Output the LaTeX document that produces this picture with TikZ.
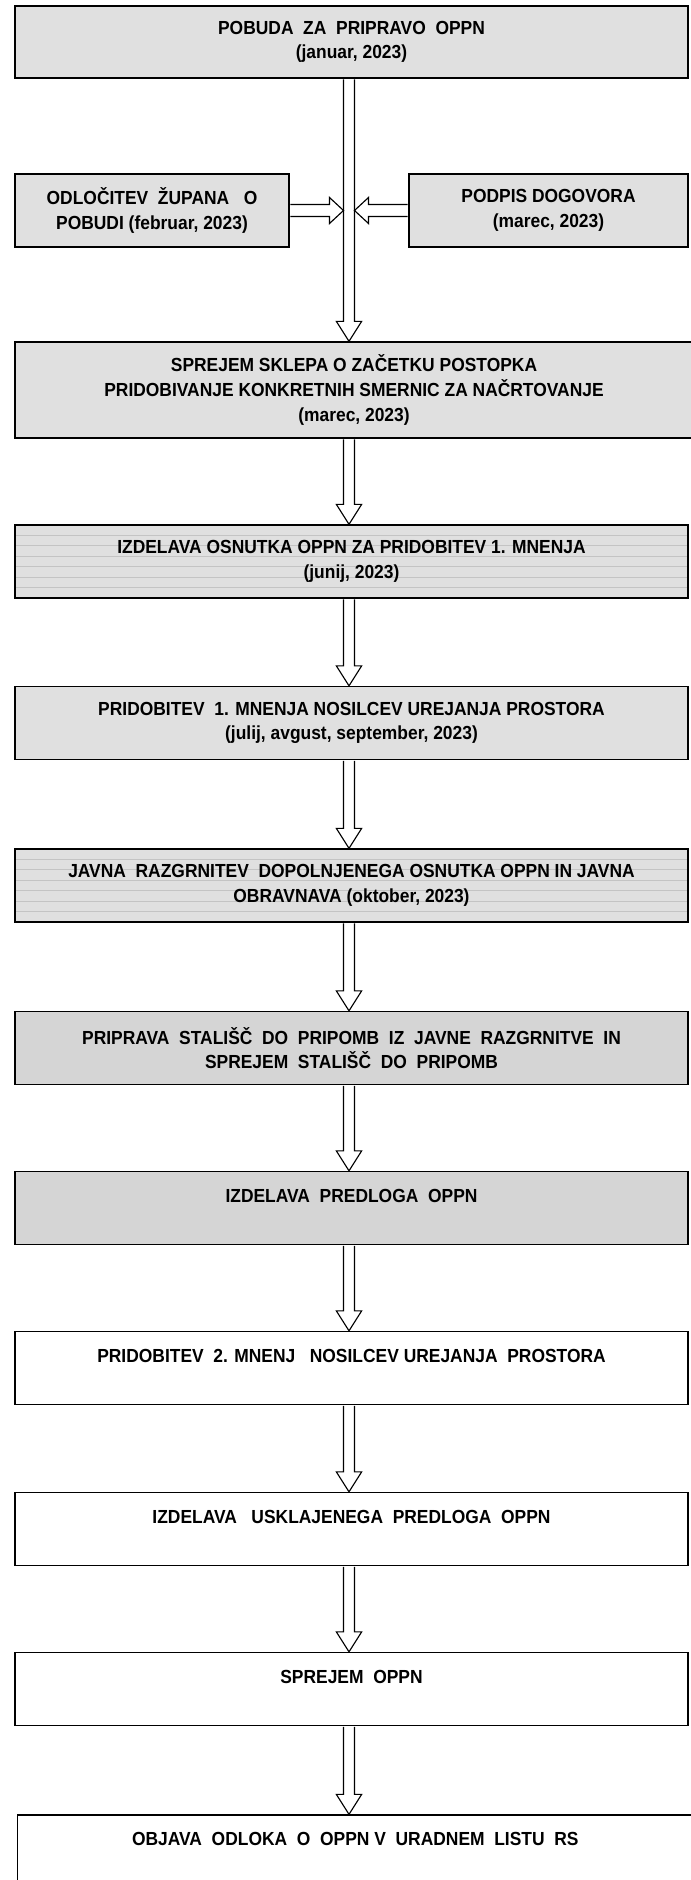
\documentclass[tikz,border=0pt]{standalone}
\usepackage{fontspec}
\setmainfont{Liberation Sans}[FakeStretch=0.92]
\usetikzlibrary{calc}
\definecolor{boxA}{HTML}{E0E0E0}
\definecolor{boxB}{HTML}{D5D5D5}
\definecolor{hlc}{HTML}{C4C4C4}
\def\pxu{0.75pt}
\newcommand{\dsp}{\ \ }
\newcommand{\varr}[2]{%
  \draw[arrowline] let \p1=(#1.south -| ax), \p2=(#2.north -| ax) in
    (\x1-4.1pt,\y1-0.5pt) -- (\x1-4.1pt,\y2+15pt) -- (\x1-9.5pt,\y2+15pt) -- (\x2,\y2)
    -- (\x1+9.5pt,\y2+15pt) -- (\x1+4.1pt,\y2+15pt) -- (\x1+4.1pt,\y1-0.5pt);}
\begin{document}
\begin{tikzpicture}[x=0.75pt,y=-0.75pt,
  fbox/.style={draw=black, line width=1pt, inner sep=0pt, align=center,
    font=\fontsize{14.2pt}{18.5pt}\selectfont\bfseries},
  gA/.style={fill=boxA},
  gB/.style={fill=boxB},
  wh/.style={fill=white},
  lined/.style={path picture={\foreach \k in {1,...,6}{\draw[hlc, line width=0.5pt]
      ([yshift=-\k*7.8pt]path picture bounding box.north west) --
      ([yshift=-\k*7.8pt]path picture bounding box.north east);}}},
  arrowline/.style={draw=black, fill=white, line width=0.85pt, line join=miter}]
\useasboundingbox (0,0) rectangle (690,1880);
\coordinate (ax) at (349,0);

\node[fbox,gA,minimum width=673*\pxu,minimum height=72*\pxu] (b1) at (351.5,42)
  {POBUDA\dsp ZA\dsp PRIPRAVO\dsp OPPN\\(januar, 2023)};
\node[fbox,gA,minimum width=274*\pxu,minimum height=73*\pxu] (bl) at (152,210.5)
  {ODLOČITEV\dsp ŽUPANA\ \ \ O\\POBUDI (februar, 2023)};
\node[fbox,gA,minimum width=279*\pxu,minimum height=73*\pxu] (br) at (548.5,210.5)
  {PODPIS DOGOVORA\\(marec, 2023)};
\node[fbox,gA,minimum width=678*\pxu,minimum height=96*\pxu] (b3) at (354,390)
  {SPREJEM SKLEPA O ZAČETKU POSTOPKA\\PRIDOBIVANJE KONKRETNIH SMERNIC ZA NAČRTOVANJE\\(marec, 2023)};
\node[fbox,gA,lined,minimum width=673*\pxu,minimum height=73*\pxu] (b4) at (351.5,561.5)
  {IZDELAVA OSNUTKA OPPN ZA PRIDOBITEV 1. MNENJA\\(junij, 2023)};
\node[fbox,gA,minimum width=673*\pxu,minimum height=73*\pxu] (b5) at (351.5,723)
  {PRIDOBITEV\dsp 1. MNENJA NOSILCEV UREJANJA PROSTORA\\(julij, avgust, september, 2023)};
\node[fbox,gA,lined,minimum width=673*\pxu,minimum height=73*\pxu] (b6) at (351.5,885.5)
  {JAVNA\dsp RAZGRNITEV\dsp DOPOLNJENEGA OSNUTKA OPPN IN JAVNA\\OBRAVNAVA (oktober, 2023)};
\node[fbox,gB,minimum width=673*\pxu,minimum height=73*\pxu] (b7) at (351.5,1048)
  {PRIPRAVA\dsp STALIŠČ\dsp DO\dsp PRIPOMB\dsp IZ\dsp JAVNE\dsp RAZGRNITVE\dsp IN\\SPREJEM\dsp STALIŠČ\dsp DO\dsp PRIPOMB};
\node[fbox,gB,minimum width=673*\pxu,minimum height=73*\pxu] (b8) at (351.5,1208)
  {IZDELAVA\dsp PREDLOGA\dsp OPPN\\\mbox{}};
\node[fbox,wh,minimum width=673*\pxu,minimum height=73*\pxu] (b9) at (351.5,1368)
  {PRIDOBITEV\dsp 2. MNENJ\ \ \ NOSILCEV UREJANJA\dsp PROSTORA\\\mbox{}};
\node[fbox,wh,minimum width=673*\pxu,minimum height=73*\pxu] (b10) at (351.5,1529)
  {IZDELAVA\ \ \ USKLAJENEGA\dsp PREDLOGA\dsp OPPN\\\mbox{}};
\node[fbox,wh,minimum width=673*\pxu,minimum height=73*\pxu] (b11) at (351.5,1689)
  {SPREJEM\dsp OPPN\\\mbox{}};
\node[fbox,wh,minimum width=675.4*\pxu,minimum height=73*\pxu] (b12) at (355.3,1851.5)
  {OBJAVA\dsp ODLOKA\dsp O\dsp OPPN V\dsp URADNEM\dsp LISTU\dsp RS\\\mbox{}};

\varr{b1}{b3}
\draw[arrowline] let \p1=(bl.east), \p2=($(bl.east -| ax)+(-5.5,0)$) in
  (\x1+0.5pt,\y1+4.5pt) -- (\x2-10.5pt,\y1+4.5pt) -- (\x2-10.5pt,\y1+9.75pt) -- (\x2,\y1)
  -- (\x2-10.5pt,\y1-9.75pt) -- (\x2-10.5pt,\y1-4.5pt) -- (\x1+0.5pt,\y1-4.5pt);
\draw[arrowline] let \p1=(br.west), \p2=($(br.west -| ax)+(5.5,0)$) in
  (\x1-0.5pt,\y1+4.5pt) -- (\x2+10.5pt,\y1+4.5pt) -- (\x2+10.5pt,\y1+9.75pt) -- (\x2,\y1)
  -- (\x2+10.5pt,\y1-9.75pt) -- (\x2+10.5pt,\y1-4.5pt) -- (\x1-0.5pt,\y1-4.5pt);
\varr{b3}{b4}
\varr{b4}{b5}
\varr{b5}{b6}
\varr{b6}{b7}
\varr{b7}{b8}
\varr{b8}{b9}
\varr{b9}{b10}
\varr{b10}{b11}
\varr{b11}{b12}
\end{tikzpicture}
\end{document}
